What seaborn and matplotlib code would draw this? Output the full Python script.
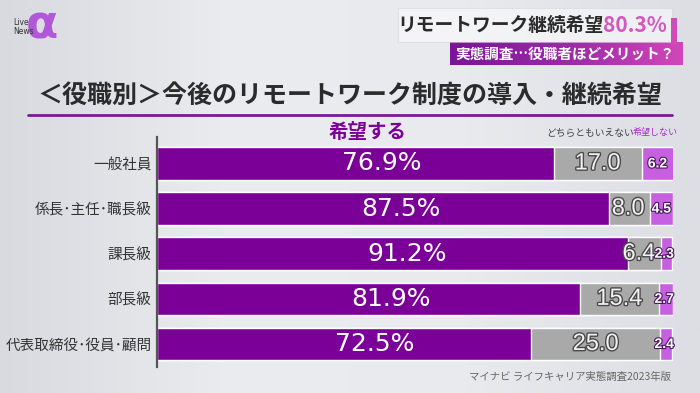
import matplotlib.pyplot as plt
import matplotlib.patheffects as pe
import numpy as np
import pandas as pd
import seaborn as sns
from matplotlib.colors import LinearSegmentedColormap
from matplotlib.patches import Rectangle

roles = ['一般社員', '係長･主任･職長級', '課長級', '部長級', '代表取締役･役員･顧問']
hope = [76.9, 87.5, 91.2, 81.9, 72.5]
neutral = [17.0, 8.0, 6.4, 15.4, 25.0]
no_hope = [6.2, 4.5, 2.3, 2.7, 2.4]

title = '＜役職別＞今後のリモートワーク制度の導入・継続希望'
legend_labels = ['希望する', 'どちらともいえない', '希望しない']
headline = 'リモートワーク継続希望'
headline_value = '80.3%'
subhead = '実態調査…役職者ほどメリット？'
source = 'マイナビ ライフキャリア実態調査2023年版'

purple = '#7b0097'
gray = '#a9a9a9'
light_purple = '#c65fe0'

sns.set_theme(style='white')
plt.rcParams['font.family'] = ['Noto Sans CJK JP', 'DejaVu Sans']

df = pd.DataFrame({'role': roles, 'hope': hope, 'neutral': neutral, 'no_hope': no_hope})
df['mid'] = df['hope'] + df['neutral']
df['total'] = df['mid'] + df['no_hope']

fig = plt.figure(figsize=(7, 3.93), dpi=100)

# background layer in pixel coordinates
bg = fig.add_axes([0, 0, 1, 1])
grad = np.linspace(0, 1, 256).reshape(1, -1)
bg_cmap = LinearSegmentedColormap.from_list('bg', ['#d8dae0', '#ebecef', '#e9eaee', '#dcdee4'])
bg.imshow(grad, extent=(0, 700, 393, 0), cmap=bg_cmap, aspect='auto')

# headline boxes
bg.add_patch(Rectangle((398, 8), 274, 34, fc='white', alpha=0.5, ec='#d5d5da', lw=0.8))
bg.add_patch(Rectangle((671, 18), 6, 27, fc='#d04ab8', lw=0))
box_cmap = LinearSegmentedColormap.from_list('box', ['#7a1596', '#9b2aa6', '#d246bb'])
bg.imshow(grad, extent=(450, 683, 65, 42), cmap=box_cmap, aspect='auto')

t_val = bg.text(667, 25, headline_value, ha='right', va='center', fontsize=15,
                color='#d457bd', weight='bold')
bg.annotate(headline, xy=(0, 0.5), xycoords=t_val, ha='right', va='center',
            fontsize=13.5, weight='bold', color='#2a2a2a')
bg.text(675, 53.5, subhead, ha='right', va='center', fontsize=10.5, color='white', weight='bold')

# logo
bg.text(42, 26, 'α', ha='center', va='center', fontsize=34, color='#b058d8',
        family='DejaVu Sans', weight='bold')
bg.text(13, 27, 'Live\nNews', ha='left', va='center', fontsize=5.5, color='#333333',
        family='DejaVu Sans', linespacing=0.9)

# title + underline
bg.text(350, 96, title, ha='center', va='center', fontsize=18, weight='bold', color='#2b2b2b')
bg.plot([28, 672], [115, 115], color='#7a1a9a', lw=2)

# legend labels above the bars
bg.text(368, 132, legend_labels[0], ha='center', va='center', fontsize=14, weight='bold', color=purple)
bg.text(590, 133, legend_labels[1], ha='center', va='center', fontsize=7, color='#444444')
bg.text(655, 133, legend_labels[2], ha='center', va='center', fontsize=6.5, color='#a232c4')

bg.text(671, 377, source, ha='right', va='center', fontsize=7.5, color='#666666')

bg.set_xlim(0, 700)
bg.set_ylim(393, 0)
bg.axis('off')

# stacked bars: draw cumulative totals back to front
ax = fig.add_axes([157 / 700, 26 / 393, 516 / 700, 230 / 393])
ax.patch.set_alpha(0)
sns.barplot(data=df, x='total', y='role', color=light_purple, saturation=1, width=0.72,
            errorbar=None, ax=ax)
sns.barplot(data=df, x='mid', y='role', color=gray, saturation=1, width=0.72,
            errorbar=None, ax=ax)
sns.barplot(data=df, x='hope', y='role', color=purple, saturation=1, width=0.72,
            errorbar=None, ax=ax)

ax.set_xlim(0, 100)
ax.set_ylim(4.51, -0.587)
ax.set_xlabel('')
ax.set_ylabel('')
ax.set_xticks([])
ax.tick_params(axis='y', length=0, pad=4, labelsize=10.5, labelcolor='#333333')
for s in ['top', 'right', 'bottom']:
    ax.spines[s].set_visible(False)
ax.spines['left'].set_color('#555555')
ax.spines['left'].set_linewidth(1.6)

stroke_gray = [pe.withStroke(linewidth=2, foreground='#4a4a4a')]
stroke_purple = [pe.withStroke(linewidth=1.6, foreground='#4a1a5c')]
for i, row in df.iterrows():
    ax.text(17.5 + 0.34 * row['hope'], i, f"{row['hope']:.1f}%", ha='center', va='center',
            fontsize=18, color='white', family='DejaVu Sans')
    # keep narrow-segment labels clear of the last segment
    gx = min(row['hope'] + row['neutral'] / 2, row['mid'] - 4.2)
    ax.text(gx, i, f"{row['neutral']:.1f}", ha='center', va='center',
            fontsize=17, color='#f2f2f2', family='Liberation Sans', path_effects=stroke_gray)
    px = min(row['mid'] + row['no_hope'] / 2, 98.3)
    ax.text(px, i, f"{row['no_hope']:.1f}", ha='center', va='center',
            fontsize=10, color='white', family='Liberation Sans', weight='bold',
            path_effects=stroke_purple)

fig.savefig('out.png', dpi=100)
